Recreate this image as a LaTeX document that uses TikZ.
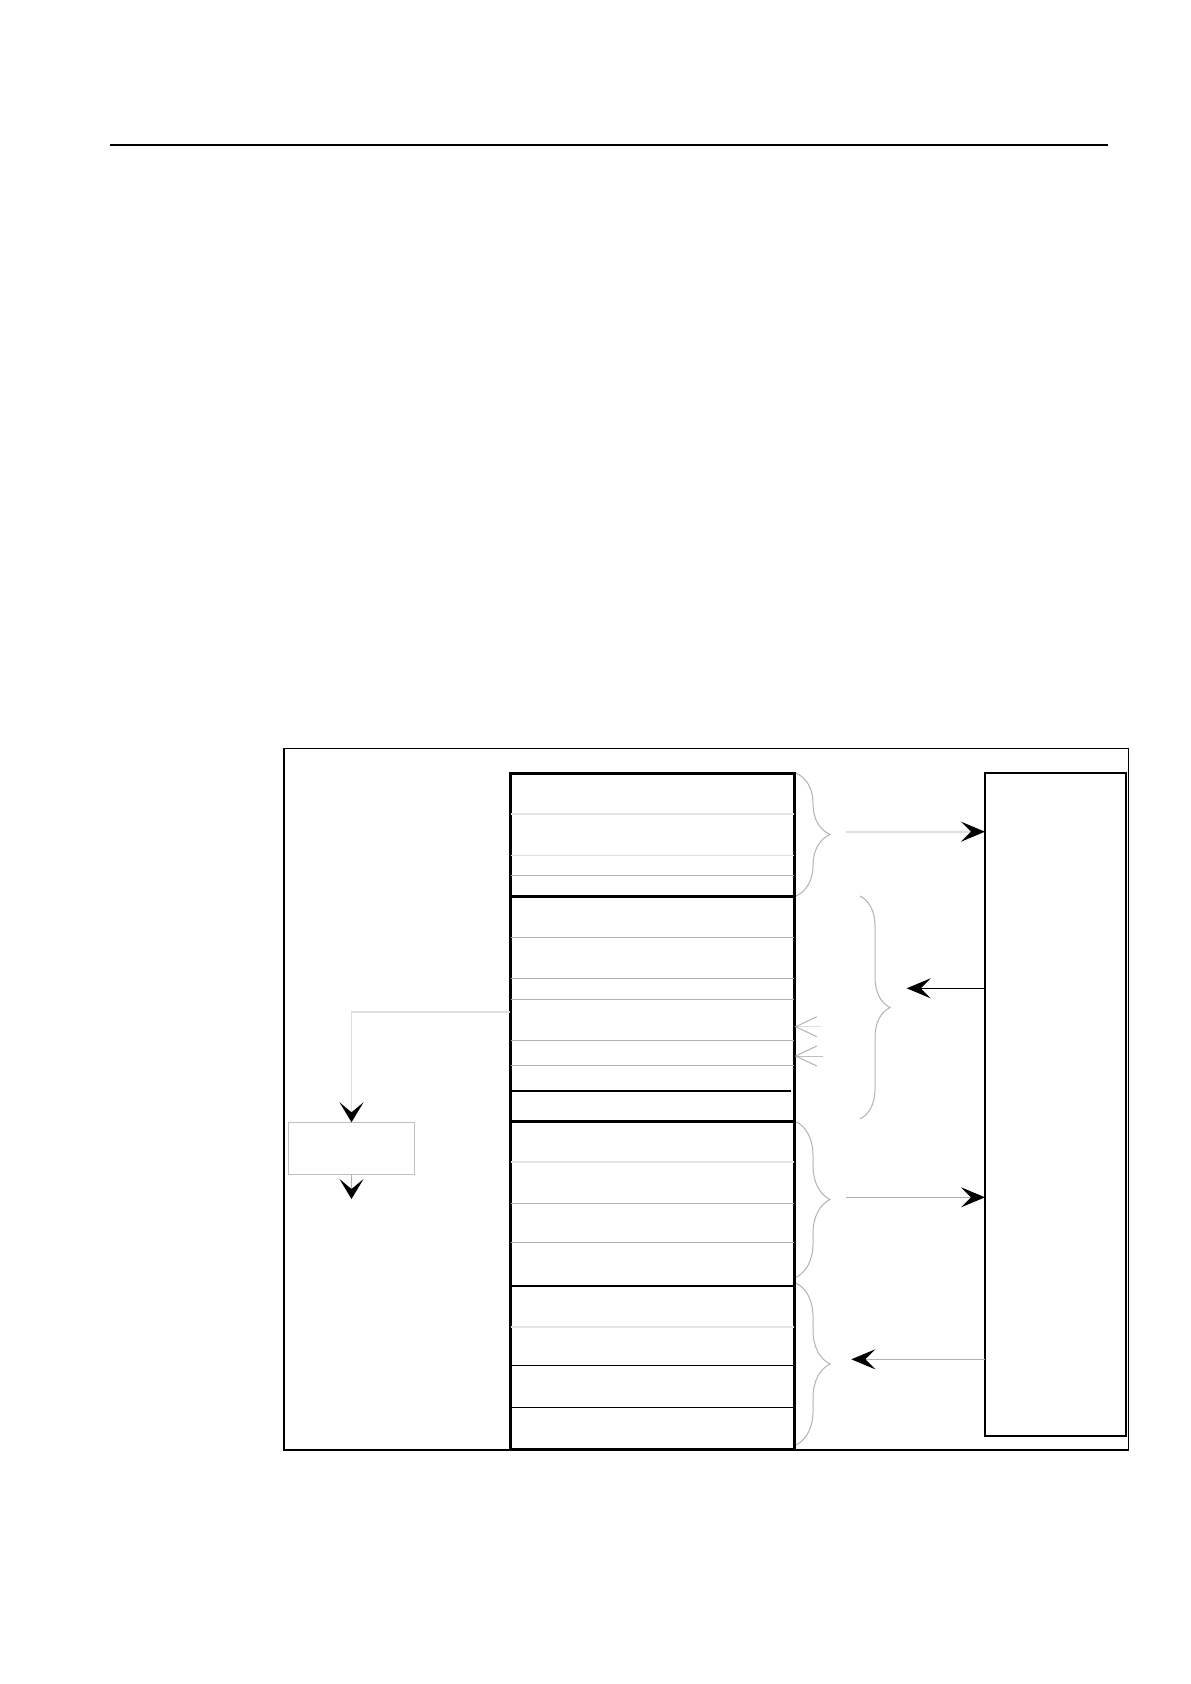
\documentclass[tikz,border=0pt]{standalone}
\usetikzlibrary{arrows.meta,decorations.pathreplacing}

\begin{document}
\begin{tikzpicture}[x=0.5pt,y=-0.5pt,every node/.style={draw,inner sep=0pt,outer sep=0pt}]
    \useasboundingbox (0,0) rectangle (1190,1684);
    \tikzset{
      head/.style={-{Stealth[length=12pt,width=10pt,inset=5pt,color=black]}},
      headdown/.style={-{Stealth[length=10pt,width=12pt,inset=5pt,color=black]}},
      barb/.style={-{Straight Barb[length=10.5pt,width=10pt,color=gray!60]}},
      curly/.style={decorate,decoration={brace,amplitude=#1},draw=gray!60,line width=0.5pt}
    }
    \draw[line width=0.7pt] (110,145) -- (1108,145);
    \draw[line width=0.6pt] (284,748.3) rectangle (1128.5,1450);

    \node[line width=1.5pt,minimum width=142.3pt,minimum height=338.2pt] (stack) at (652.3,1111.2) {};
    \node[line width=0.6pt,minimum width=70.5pt,minimum height=331.5pt] (host) at (1055.5,1104.5) {};
    \node[draw=gray!50,line width=0.5pt,minimum width=62.8pt,minimum height=25.9pt] (buf) at (351.5,1148.2) {};

    % rows of the stack
    \foreach \y/\c/\w in {813.7/gray!20/0.8pt, 855.3/gray!25/0.5pt, 875.3/gray!60/0.5pt,
                          937.3/gray!60/0.5pt, 978.3/gray!60/0.5pt, 999.3/gray!60/0.5pt,
                          1040.3/gray!60/0.5pt, 1065.3/gray!60/0.5pt, 1162/gray!20/0.8pt,
                          1203/gray!60/0.5pt, 1242.3/gray!60/0.5pt, 1326.7/gray!20/0.8pt,
                          1365.3/black/0.6pt, 1407.3/black/0.6pt}
      \draw[draw=\c,line width=\w] (511,\y) -- (794,\y);
    \draw[line width=0.6pt] (511,1091) -- (791,1091);
    \draw[line width=1.5pt] (510,896.7) -- (794.6,896.7);
    \draw[line width=1.5pt] (510,1121.7) -- (794.6,1121.7);
    \draw[line width=1pt] (510,1285.7) -- (794.6,1285.7);

    % braces
    \draw[curly=17pt] (796,773) -- (796,896);
    \draw[curly=15pt] (860,896) -- (860,1119);
    \draw[curly=17pt] (796,1121.7) -- (796,1277.3);
    \draw[curly=17pt] (796,1283) -- (796,1445);

    \coordinate (b1) at (846,831.7);
    \coordinate (b2) at (906.7,988.3);
    \coordinate (b3) at (846,1197.3);
    \coordinate (b4) at (851.3,1359.3);
    \coordinate (tap) at (510,1012);
    \coordinate (out) at (351.5,1199);
    \coordinate (o1) at (820.7,1026.7);
    \coordinate (o2) at (823.3,1056);

    \draw[head,draw=gray!25,line width=0.8pt] (b1) -- (b1 -| host.west);
    \draw[head,line width=0.5pt] (b2 -| host.west) -- (b2);
    \draw[head,draw=gray!60,line width=0.5pt] (b3) -- (b3 -| host.west);
    \draw[head,draw=gray!60,line width=0.5pt] (b4 -| host.west) -- (b4);
    \draw[headdown,draw=gray!25,line width=0.8pt] (tap) -| (buf.north);
    \draw[headdown,draw=gray!60,line width=0.5pt] (buf.south) -- (out);
    \draw[barb,draw=gray!25,line width=0.5pt] (o1) -- (o1 -| stack.east);
    \draw[barb,draw=gray!50,line width=0.5pt] (o2) -- (o2 -| stack.east);
\end{tikzpicture}
\end{document}
